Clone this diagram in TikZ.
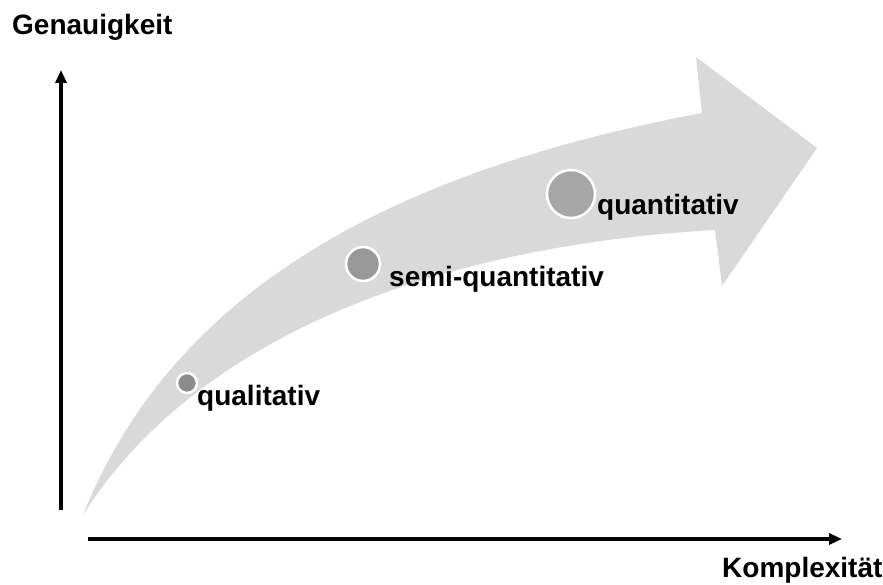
\documentclass[tikz,border=0pt]{standalone}
\usepackage{fontspec}
\setmainfont{Liberation Sans}
\usetikzlibrary{arrows.meta}
\definecolor{arrowgray}{HTML}{D9D9D9}
\definecolor{dotA}{HTML}{8C8C8C}
\definecolor{dotB}{HTML}{999999}
\definecolor{dotC}{HTML}{A6A6A6}
\begin{document}
\begin{tikzpicture}[x=1pt,y=-1pt,
  lbl/.style={anchor=base west,inner sep=0pt,font=\fontsize{28}{33}\selectfont\bfseries},
  axis/.style={line width=3.2pt,-{Triangle[length=13pt,width=11pt]}},
  dot/.style={circle,draw=white,line width=2.5pt,inner sep=0pt}]
\useasboundingbox (0,0) rectangle (883,585);
% big curved arrow
\fill[arrowgray] (83,515) .. controls (175,285) and (400,170) .. (702,113)
  -- (696,57) -- (817,148) -- (722,286) -- (715,230)
  .. controls (450,245) and (200,330) .. (83,515) -- cycle;
% axes
\coordinate (yb) at (61,510);
\coordinate (yt) at (61,70);
\coordinate (xl) at (88,539);
\coordinate (xr) at (842,539);
\draw[axis] (yb) -- (yt);
\draw[axis] (xl) -- (xr);
\node[lbl] (gen) at (12,35) {Genauigkeit};
\node[lbl] (kom) at (722,577) {Komplexität};
% dots
\node[dot,fill=dotA,minimum size=20pt] (d1) at (187,383) {};
\node[dot,fill=dotB,minimum size=34pt] (d2) at (363,264) {};
\node[dot,fill=dotC,minimum size=48pt] (d3) at (571,194) {};
\node[lbl] (t1) at (197,405) {qualitativ};
\node[lbl] (t2) at (389,287) {semi-quantitativ};
\node[lbl] (t3) at (597,215) {quantitativ};
\end{tikzpicture}
\end{document}
